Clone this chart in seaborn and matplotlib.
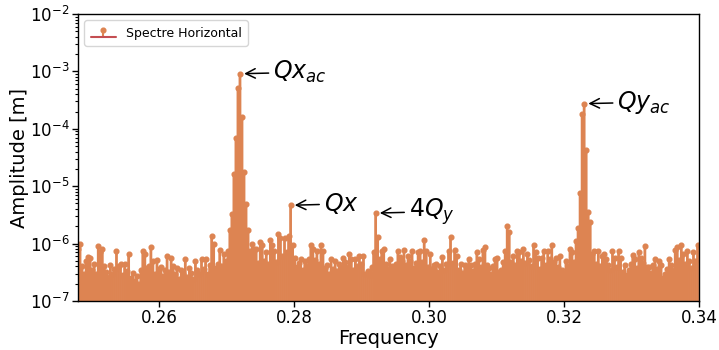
import numpy as np
import matplotlib
matplotlib.use("Agg")
import matplotlib.pyplot as plt
import seaborn as sns

# FFT bin grid of the horizontal spectrum
f_start = 0.2480
f_step = 0.0003

# Amplitudes per bin, in units of 1e-7 m, split by frequency band
amp_0248_0272 = [
    8, 10, 4, 3, 5, 5.8, 5.6, 3.5, 4.4, 3,
    9.2, 7, 7.9, 4, 3.2, 2.6, 4.3, 3, 3.6, 7.4,
    4, 4.4, 2.8, 4.4, 3.3, 6.7, 2.5, 3.1, 2.2, 2.7,
    2.0, 3.4, 7.4, 6.6, 3.8, 4.1, 8.6, 4.9, 3.0, 5.1,
    3.6, 3.9, 2.7, 3.5, 6.0, 3.2, 5.6, 4.0, 2.9, 3.7,
    2.4, 3.5, 3.0, 5.4, 2.6, 3.7, 3.1, 2.4, 4.9, 3.4,
    3.0, 5.4, 3.6, 5.3, 2.9, 4.2, 13.4, 10, 3.8, 4.5,
    7.6, 4.1, 6.6, 5.0, 7.4, 17, 33, 160, 690, 5100,
]
amp_0272_0296 = [
    9100, 1600, 180, 48, 17, 7.5, 10, 8.1, 8.0, 4.6,
    10.5, 9.6, 5.0, 7.2, 4.4, 11.5, 9.5, 7.4, 4.8, 14.9,
    12.4, 6.2, 12.4, 7.0, 13.5, 46.5, 9.4, 5.6, 3.9, 4.6,
    5.3, 3.4, 4.9, 4.0, 5.5, 9.4, 8.1, 5.2, 7.4, 4.5,
    9.4, 7.4, 3.7, 4.2, 3.0, 5.3, 3.6, 4.9, 3.3, 4.4,
    3.8, 5.6, 4.8, 3.9, 6.6, 5.3, 3.5, 5.3, 4.1, 6.0,
    4.5, 6.2, 3.0, 3.3, 2.8, 3.9, 7.1, 34, 12.8, 5.5,
    7.4, 8.1, 4.4, 3.6, 5.4, 4.1, 3.5, 4.4, 7.3, 5.8,
]
amp_0296_0320 = [
    4.9, 7.7, 4.3, 6.0, 5.0, 7.3, 3.8, 4.6, 7.2, 7.3,
    4.8, 11.4, 7.4, 3.9, 6.6, 3.6, 4.3, 4.4, 3.2, 4.0,
    5.8, 3.4, 4.4, 7.4, 13, 4.6, 7.6, 6.2, 3.5, 4.4,
    3.1, 4.3, 3.8, 5.4, 4.3, 3.3, 4.5, 7.2, 5.5, 3.9,
    7.6, 8.6, 4.2, 3.7, 3.0, 4.0, 5.3, 5.6, 3.2, 3.5,
    4.8, 7.4, 20.5, 16, 4.7, 6.0, 4.2, 7.4, 7.2, 5.0,
    8.1, 4.6, 6.6, 5.2, 4.1, 9.4, 7.2, 5.6, 3.6, 5.6,
    7.3, 4.2, 7.3, 5.5, 9.4, 4.7, 5.6, 3.9, 6.0, 3.5,
]
amp_0320_0340 = [
    2.9, 5.0, 4.1, 8.1, 7.2, 4.8, 11, 18.6, 76, 1830,
    2740, 420, 35, 24, 6.5, 7.4, 4.5, 7.3, 4.0, 6.0,
    6.6, 5.3, 4.3, 3.4, 7.3, 5.6, 3.9, 7.3, 5.6, 3.2,
    4.3, 2.8, 3.5, 4.4, 6.3, 5.3, 3.8, 7.2, 5.6, 4.6,
    9.2, 3.9, 3.9, 3.1, 4.2, 5.3, 3.6, 4.9, 4.3, 2.5,
    2.9, 3.6, 5.3, 4.3, 3.4, 7.6, 8.6, 5.1, 9.6, 6.6,
    4.4, 7.4, 4.9, 3.7, 7.2, 5.0, 9.4,
]

# Identified tune lines
peak_labels = ["$Qx_{ac}$", "$Qx$", "$4Q_y$", "$Qy_{ac}$"]
peak_freqs = [0.2720, 0.2795, 0.2921, 0.3230]

amplitude = 1e-7 * np.array(amp_0248_0272 + amp_0272_0296 + amp_0296_0320 + amp_0320_0340)
frequency = f_start + f_step * np.arange(len(amplitude))

sns.set_theme(style="ticks", context="notebook")
plt.rcParams.update({
    "font.family": ["DejaVu Sans"],
    "text.color": "black",
    "axes.labelcolor": "black",
    "xtick.color": "black",
    "ytick.color": "black",
    "xtick.labelcolor": "black",
    "ytick.labelcolor": "black",
})
pal = sns.color_palette("deep")
orange, red = pal[1], pal[3]

fig = plt.figure(figsize=(7.19, 3.5), dpi=100)
ax = fig.add_axes([0.1085, 0.140, 0.8635, 0.820])

markerline, stemlines, baseline = ax.stem(
    frequency, amplitude, bottom=1e-9, label="Spectre Horizontal"
)
plt.setp(stemlines, color=orange, linewidth=2.0)
stemlines.set_snap(False)
plt.setp(markerline, color=orange, markersize=3.4)
plt.setp(baseline, color=red, linewidth=1.5)

ax.set_yscale("log")
ax.set_ylim(1e-7, 1e-2)
ax.set_xlim(0.248, 0.34)
ax.set_xticks([0.26, 0.28, 0.30, 0.32, 0.34])
ax.xaxis.set_major_formatter(matplotlib.ticker.FormatStrFormatter("%.2f"))

for lab, f in zip(peak_labels, peak_freqs):
    i = int(np.argmin(np.abs(frequency - f)))
    ax.annotate(
        lab, xy=(frequency[i], amplitude[i]), xytext=(24, 1),
        textcoords="offset points", ha="left", va="center", fontsize=17,
        color="black",
        arrowprops=dict(arrowstyle="->", color="black", lw=1.1,
                        shrinkA=1, shrinkB=3),
    )

ax.set_xlabel("Frequency", fontsize=14, labelpad=1)
ax.set_ylabel("Amplitude [m]", fontsize=14, labelpad=1)
ax.tick_params(axis="both", which="major", labelsize=12, length=4, width=1,
               color="black", labelcolor="black", pad=2)
ax.tick_params(axis="y", which="minor", length=2.5, width=0.8, color="black")
for s in ax.spines.values():
    s.set_color("black")
    s.set_linewidth(1.0)

leg = ax.legend(loc="upper left", fontsize=9, frameon=True, framealpha=0.8,
                edgecolor="0.8", borderpad=0.5, handlelength=2.0)
for t in leg.get_texts():
    t.set_color("black")

fig.savefig("out.png", dpi=100)
